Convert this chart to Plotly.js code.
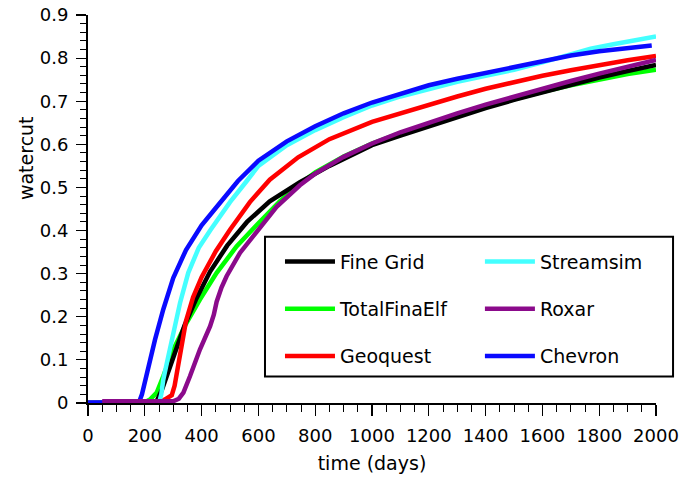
<!DOCTYPE html>
<html>
<head>
<meta charset="utf-8">
<script src="https://cdn.plot.ly/plotly-3.0.1.min.js"></script>
<style>html,body{margin:0;padding:0;background:#fff;}#chart{width:692px;height:479px;}</style>
</head>
<body>
<div id="chart"></div>
<script>
// ---- data (time in days, watercut fraction) ----
const seriesNames = ["Fine Grid", "TotalFinaElf", "Geoquest", "Streamsim", "Roxar", "Chevron"];

const fineGridDays = [0, 240, 260, 280, 300, 340, 380, 430, 490, 560, 640, 746, 850, 1000, 1100, 1200, 1300, 1400, 1500, 1600, 1700, 1800, 1900, 2000];
const fineGridCut  = [0, 0.002, 0.03, 0.068, 0.105, 0.18, 0.24, 0.305, 0.365, 0.42, 0.468, 0.512, 0.55, 0.598, 0.62, 0.642, 0.663, 0.684, 0.703, 0.721, 0.738, 0.755, 0.77, 0.784];

const totalDays = [0, 200, 218, 242, 265, 300, 347, 394, 453, 523, 594, 676, 746, 800, 900, 1000, 1100, 1200, 1300, 1400, 1500, 1600, 1700, 1800, 1900, 2000];
const totalCut  = [0, 0.002, 0.008, 0.024, 0.062, 0.124, 0.186, 0.24, 0.302, 0.363, 0.413, 0.468, 0.508, 0.535, 0.572, 0.602, 0.626, 0.648, 0.668, 0.687, 0.705, 0.722, 0.737, 0.751, 0.763, 0.773];

const geoquestDays = [0, 240, 270, 295, 305, 315, 330, 345, 370, 400, 450, 500, 570, 640, 740, 850, 1000, 1100, 1200, 1300, 1400, 1500, 1600, 1700, 1800, 1900, 2000];
const geoquestCut  = [0, 0, 0.008, 0.018, 0.04, 0.08, 0.14, 0.19, 0.245, 0.292, 0.352, 0.402, 0.466, 0.518, 0.57, 0.612, 0.652, 0.672, 0.692, 0.711, 0.729, 0.745, 0.759, 0.772, 0.784, 0.795, 0.805];

const streamsimDays = [0, 250, 258, 265, 280, 295, 310, 324, 353, 390, 430, 471, 500, 559, 600, 700, 800, 900, 1000, 1100, 1200, 1300, 1400, 1500, 1600, 1700, 1770, 1850, 2000];
const streamsimCut  = [0, 0, 0.02, 0.054, 0.1, 0.147, 0.19, 0.232, 0.302, 0.36, 0.40, 0.44, 0.466, 0.515, 0.55, 0.598, 0.633, 0.663, 0.69, 0.711, 0.729, 0.745, 0.759, 0.773, 0.79, 0.808, 0.822, 0.832, 0.85];

const roxarDays = [50, 300, 320, 336, 359, 394, 430, 443, 453, 470, 488, 535, 594, 664, 746, 800, 900, 1000, 1100, 1200, 1300, 1400, 1500, 1600, 1700, 1800, 1900, 2000];
const roxarCut  = [0.004, 0.004, 0.01, 0.024, 0.062, 0.124, 0.178, 0.205, 0.235, 0.268, 0.294, 0.348, 0.397, 0.455, 0.505, 0.532, 0.571, 0.602, 0.628, 0.651, 0.672, 0.692, 0.711, 0.729, 0.747, 0.764, 0.78, 0.796];

const chevronDays = [0, 180, 190, 200, 215, 236, 265, 300, 345, 400, 447, 475, 528, 600, 700, 800, 900, 1000, 1100, 1200, 1300, 1400, 1500, 1600, 1700, 1800, 1900, 1985];
const chevronCut  = [0.001, 0.002, 0.02, 0.047, 0.095, 0.147, 0.217, 0.29, 0.355, 0.412, 0.45, 0.472, 0.515, 0.562, 0.607, 0.642, 0.672, 0.697, 0.717, 0.737, 0.752, 0.766, 0.779, 0.793, 0.806, 0.816, 0.823, 0.829];

const xTickVals = [0, 200, 400, 600, 800, 1000, 1200, 1400, 1600, 1800, 2000];
const yTickVals = [0, 0.1, 0.2, 0.3, 0.4, 0.5, 0.6, 0.7, 0.8, 0.9];
const yTickText = ["0", "0.1", "0.2", "0.3", "0.4", "0.5", "0.6", "0.7", "0.8", "0.9"];

const FONT = "DejaVu Sans, Liberation Sans, Arial, sans-serif";

function tr(name, x, y, color, legend, rank) {
  return {type: "scatter", mode: "lines", name: name, x: x, y: y,
          line: {color: color, width: 4.5}, legend: legend, legendrank: rank,
          legendgroup: name, hoverinfo: "skip"};
}

// drawing order (bottom -> top)
const data = [
  tr(seriesNames[1], totalDays, totalCut, "#00ff00", "legend", 2),
  tr(seriesNames[0], fineGridDays, fineGridCut, "#000000", "legend", 1),
  tr(seriesNames[2], geoquestDays, geoquestCut, "#ff0000", "legend", 3),
  tr(seriesNames[3], streamsimDays, streamsimCut, "#44ffff", "legend2", 1),
  tr(seriesNames[5], chevronDays, chevronCut, "#0a0aff", "legend2", 3),
  tr(seriesNames[4], roxarDays, roxarCut, "#8b0a8b", "legend2", 2)
];

const legendCommon = {
  bgcolor: "rgba(0,0,0,0)", borderwidth: 0, orientation: "v",
  font: {family: FONT, size: 19, color: "#000"},
  tracegroupgap: 19.5, itemwidth: 50, yanchor: "top", xanchor: "left",
  traceorder: "grouped", itemclick: false, itemdoubleclick: false
};

const layout = {
  width: 692, height: 479,
  margin: {l: 88, r: 36, t: 15, b: 75.5, pad: 0},
  paper_bgcolor: "#ffffff", plot_bgcolor: "#ffffff",
  font: {family: FONT, size: 18, color: "#000"},
  showlegend: true,
  legend: Object.assign({}, legendCommon, {x: 0.338, y: 0.413}),
  legend2: Object.assign({}, legendCommon, {x: 0.69, y: 0.413}),
  xaxis: {
    range: [0, 2000], tickvals: xTickVals, ticks: "outside", ticklen: 11, tickwidth: 1.2,
    tickcolor: "#000", showline: true, linecolor: "#000", linewidth: 2, showgrid: false,
    zeroline: false, tickfont: {family: FONT, size: 18}, ticklabelstandoff: 4,
    minor: {dtick: 50, ticks: "outside", ticklen: 7, tickwidth: 1, tickcolor: "#000", showgrid: false},
    title: {text: "time (days)", font: {family: FONT, size: 19}, standoff: 12},
    fixedrange: true
  },
  yaxis: {
    range: [0, 0.9], tickvals: yTickVals, ticktext: yTickText, ticks: "outside", ticklen: 10, tickwidth: 1.2,
    tickcolor: "#000", showline: true, linecolor: "#000", linewidth: 2, showgrid: false,
    zeroline: false, tickfont: {family: FONT, size: 18}, ticklabelstandoff: 4,
    minor: {dtick: 0.02, ticks: "outside", ticklen: 6, tickwidth: 1, tickcolor: "#000", showgrid: false},
    title: {text: ""},
    fixedrange: true
  },
  annotations: [{
    text: "watercut", xref: "paper", yref: "paper", x: -0.11, y: 0.63,
    xanchor: "center", yanchor: "middle", textangle: -90, showarrow: false,
    font: {family: FONT, size: 19, color: "#000"}
  }],
  shapes: [{
    type: "rect", xref: "paper", yref: "paper",
    x0: 0.3116, x1: 1.03, y0: 0.0682, y1: 0.4286,
    line: {color: "#000", width: 2}, fillcolor: "rgba(0,0,0,0)", layer: "above"
  }]
};

Plotly.newPlot("chart", data, layout, {displayModeBar: false, staticPlot: true});
</script>
</body>
</html>
